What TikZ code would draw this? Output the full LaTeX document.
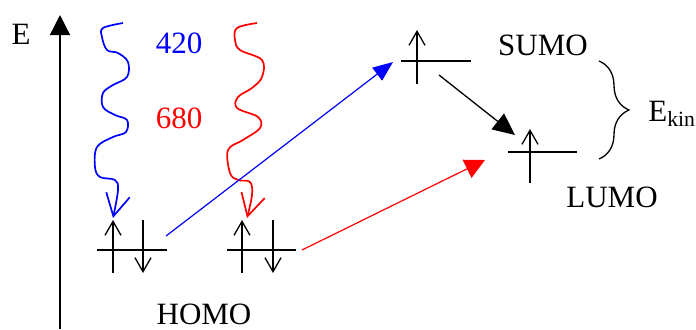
\documentclass[tikz,border=0pt]{standalone}
\usepackage{fontspec}
\setmainfont{Liberation Serif}
\usetikzlibrary{arrows.meta,decorations.pathreplacing,positioning}

\begin{document}
\begin{tikzpicture}[x=0.5pt,y=-0.5pt,>=Stealth,
  every node/.style={font=\fontsize{15.5}{18}\selectfont,inner sep=0pt},
  level/.style={line width=0.65pt},
  spin/.style={line width=0.65pt,-{Straight Barb[length=7pt,width=8pt]}},
  photon/.style={line width=0.85pt,line join=round,-{Straight Barb[length=11pt,width=12pt]}},
  excite/.style={line width=0.6pt,-{Triangle[length=10pt,width=8pt]}}]
  \useasboundingbox (0,0) rectangle (696,329);
  % energy axis
  \coordinate (axisB) at (60,329);
  \coordinate (axisT) at (60,15);
  \draw[line width=0.65pt,-{Triangle[length=10pt,width=10pt]}] (axisB) -- (axisT);
  \node[anchor=base] (E) at (21,44) {E};
  % levels
  \coordinate (homoA-w) at (97,250);  \coordinate (homoA-e) at (167,250);
  \coordinate (homoB-w) at (227,250); \coordinate (homoB-e) at (296,250);
  \coordinate (sumo-w) at (401,61);   \coordinate (sumo-e) at (471,61);
  \coordinate (lumo-w) at (508,152);  \coordinate (lumo-e) at (577,152);
  \draw[level] (homoA-w) -- (homoA-e);
  \draw[level] (homoB-w) -- (homoB-e);
  \draw[level] (sumo-w) -- (sumo-e);
  \draw[level] (lumo-w) -- (lumo-e);
  % spins
  \draw[spin] (113,273) -- (113,220);
  \draw[spin] (143,220) -- (143,273);
  \draw[spin] (242,273) -- (242,220);
  \draw[spin] (273,220) -- (273,273);
  \draw[spin] (417,84) -- (417,30);
  \draw[spin] (530,183) -- (530,129);
  % labels
  \node[anchor=base] (homo) at (204,324) {HOMO};
  \node[anchor=base] (sumo) at (543,55) {SUMO};
  \node[anchor=base] (lumo) at (612,207) {LUMO};
  \node[anchor=base,blue] (l420) at (179,53) {420};
  \node[anchor=base,red] (l680) at (179,128) {680};
  % photons
  \draw[photon,blue] plot[smooth,tension=0.6] coordinates {(123,23) (103,28) (102,37) (107,50)
    (118,53) (128,62) (127,77) (113,85) (103,93) (103,107) (115,115) (127,120)
    (126,132) (113,137) (97,147) (95,167) (100,177) (115,180) (118,190) (113,218)};
  \draw[photon,red] plot[smooth,tension=0.6] coordinates {(257,23) (237,28) (235,40) (240,50)
    (262,60) (262,77) (252,88) (238,97) (237,108) (258,117) (260,128) (243,140)
    (228,150) (230,173) (238,180) (250,182) (252,195) (247,218)};
  % transitions
  \coordinate (blueS) at (166,236); \coordinate (blueE) at (393,62);
  \coordinate (redS) at (302,250);  \coordinate (redE) at (485,160);
  \coordinate (kinS) at (439,75);   \coordinate (kinE) at (515,135);
  \draw[excite,blue] (blueS) -- (blueE);
  \draw[excite,red,-{Triangle[length=10pt,width=10pt]}] (redS) -- (redE);
  \draw[excite,black,line width=0.65pt,-{Triangle[length=11pt,width=10pt]}] (kinS) -- (kinE);
  % kinetic energy brace
  \coordinate (braceT) at (599,61); \coordinate (braceB) at (599,159);
  \draw[line width=0.65pt,decorate,decoration={brace,amplitude=15pt}] (braceT) -- (braceB);
  \node[anchor=base west] (ekin) at (648,121) {E\textsubscript{kin}};
\end{tikzpicture}
\end{document}
